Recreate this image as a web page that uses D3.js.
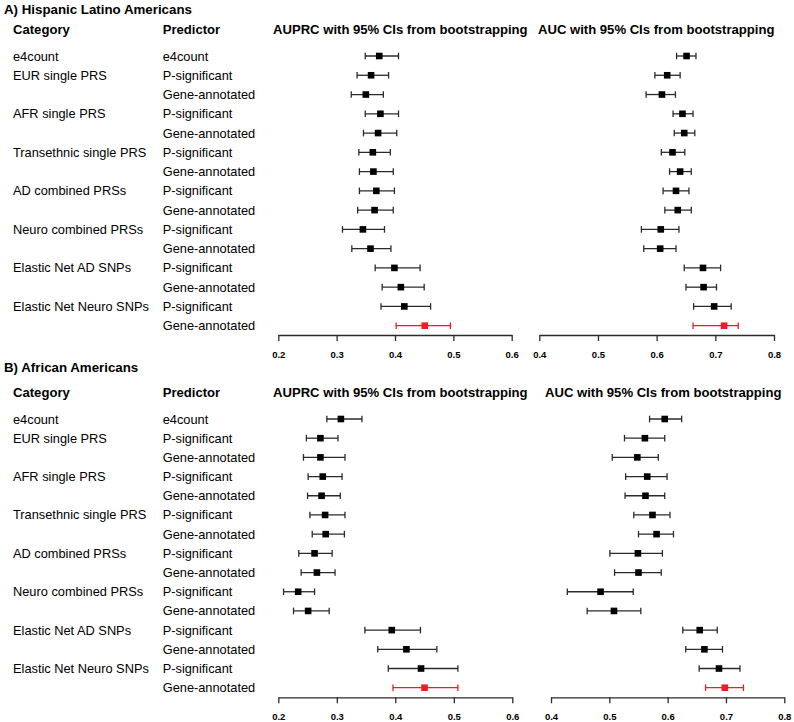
<!DOCTYPE html>
<html>
<head>
<meta charset="utf-8">
<script src="https://cdn.jsdelivr.net/npm/d3@7"></script>
<style>
  html, body { margin: 0; padding: 0; background: #fff; }
  svg { display: block; font-family: "Liberation Sans", Arial, sans-serif; }
</style>
</head>
<body>
<svg id="chart" width="794" height="722"></svg>
<script>
// ---------- data ----------
const categories = ["e4count", "EUR single PRS", "", "AFR single PRS", "", "Transethnic single PRS", "",
  "AD combined PRSs", "", "Neuro combined PRSs", "", "Elastic Net AD SNPs", "", "Elastic Net Neuro SNPs", ""];
const predictors = ["e4count", "P-significant", "Gene-annotated", "P-significant", "Gene-annotated",
  "P-significant", "Gene-annotated", "P-significant", "Gene-annotated", "P-significant", "Gene-annotated",
  "P-significant", "Gene-annotated", "P-significant", "Gene-annotated"];
const highlightRow = 14;

// Panel A: Hispanic Latino Americans
const hlaAuprc   = [0.373, 0.359, 0.350, 0.375, 0.371, 0.362, 0.363, 0.368, 0.365, 0.345, 0.358, 0.399, 0.410, 0.416, 0.451];
const hlaAuprcLo = [0.349, 0.335, 0.325, 0.349, 0.346, 0.338, 0.339, 0.339, 0.336, 0.310, 0.326, 0.366, 0.378, 0.376, 0.402];
const hlaAuprcHi = [0.406, 0.389, 0.380, 0.406, 0.403, 0.392, 0.397, 0.399, 0.397, 0.382, 0.393, 0.443, 0.450, 0.461, 0.495];
const hlaAuc     = [0.651, 0.618, 0.609, 0.644, 0.647, 0.627, 0.640, 0.633, 0.636, 0.607, 0.606, 0.679, 0.680, 0.698, 0.715];
const hlaAucLo   = [0.634, 0.597, 0.582, 0.628, 0.630, 0.608, 0.622, 0.611, 0.614, 0.574, 0.578, 0.647, 0.650, 0.663, 0.662];
const hlaAucHi   = [0.667, 0.640, 0.632, 0.662, 0.665, 0.648, 0.659, 0.655, 0.659, 0.638, 0.633, 0.709, 0.702, 0.727, 0.739];

// Panel B: African Americans
const aaAuprc   = [0.307, 0.272, 0.272, 0.276, 0.274, 0.280, 0.281, 0.262, 0.266, 0.234, 0.251, 0.394, 0.419, 0.444, 0.450];
const aaAuprcLo = [0.283, 0.248, 0.243, 0.251, 0.250, 0.254, 0.258, 0.235, 0.239, 0.209, 0.226, 0.348, 0.370, 0.388, 0.396];
const aaAuprcHi = [0.343, 0.302, 0.314, 0.309, 0.306, 0.314, 0.313, 0.292, 0.297, 0.262, 0.287, 0.443, 0.471, 0.507, 0.507];
const aaAuc     = [0.595, 0.561, 0.548, 0.565, 0.562, 0.574, 0.581, 0.549, 0.550, 0.485, 0.508, 0.655, 0.663, 0.688, 0.698];
const aaAucLo   = [0.569, 0.526, 0.505, 0.528, 0.527, 0.542, 0.550, 0.501, 0.509, 0.428, 0.462, 0.626, 0.631, 0.654, 0.665];
const aaAucHi   = [0.624, 0.595, 0.584, 0.599, 0.595, 0.604, 0.610, 0.591, 0.589, 0.541, 0.554, 0.685, 0.694, 0.724, 0.730];

const auprcTicks = [0.2, 0.3, 0.4, 0.5, 0.6];
const aucTicks = [0.4, 0.5, 0.6, 0.7, 0.8];

const panelTitles = ["A) Hispanic Latino Americans", "B) African Americans"];
const colHeaders = ["Category", "Predictor", "AUPRC with 95% CIs from bootstrapping", "AUC with 95% CIs from bootstrapping"];

// ---------- drawing ----------
const svg = d3.select("#chart");
const rowIdx = d3.range(categories.length);
const RED = "#ee1c25";
const BAR = "#2b2b2b";
const HEAD_FS = 13.1;
const BODY_FS = 12.8;

const panels = [
  { title: panelTitles[0], titleY: 14, headY: 34, rowTop: 56, rowBot: 325.7, axisY: 335,
    auprcRange: [278.3, 511.7], aucRange: [539.3, 774], aucHeadX: 538,
    auprc: [hlaAuprc, hlaAuprcLo, hlaAuprcHi], auc: [hlaAuc, hlaAucLo, hlaAucHi] },
  { title: panelTitles[1], titleY: 372, headY: 397, rowTop: 419, rowBot: 687.7, axisY: 697.3,
    auprcRange: [278.3, 512.3], aucRange: [551, 784.3], aucHeadX: 545,
    auprc: [aaAuprc, aaAuprcLo, aaAuprcHi], auc: [aaAuc, aaAucLo, aaAucHi] }
];

panels.forEach(p => {
  const g = svg.append("g");
  g.append("text").attr("x", 4).attr("y", p.titleY)
    .attr("font-size", 13.3).attr("font-weight", "bold").attr("fill", "#000").text(p.title);

  const heads = [[13, colHeaders[0]], [162.7, colHeaders[1]], [273, colHeaders[2]], [p.aucHeadX, colHeaders[3]]];
  g.selectAll("text.head").data(heads).join("text").attr("class", "head")
    .attr("x", d => d[0]).attr("y", p.headY)
    .attr("font-size", HEAD_FS).attr("font-weight", "bold").attr("fill", "#000").text(d => d[1]);

  const y = d3.scalePoint().domain(rowIdx).range([p.rowTop, p.rowBot]);

  g.selectAll("text.cat").data(rowIdx).join("text").attr("class", "cat")
    .attr("x", 13).attr("y", i => y(i) + 4.5)
    .attr("font-size", BODY_FS).attr("fill", "#000").text(i => categories[i]);
  g.selectAll("text.pred").data(rowIdx).join("text").attr("class", "pred")
    .attr("x", 162.7).attr("y", i => y(i) + 4.5)
    .attr("font-size", BODY_FS).attr("fill", "#000").text(i => predictors[i]);

  const drawForest = (vals, domain, range, ticks) => {
    const [pt, lo, hi] = vals;
    const x = d3.scaleLinear().domain(domain).range(range);
    const fg = g.append("g");
    const rows = fg.selectAll("g.row").data(rowIdx).join("g").attr("class", "row");
    const col = i => i === highlightRow ? RED : BAR;
    rows.append("line")
      .attr("x1", i => x(lo[i])).attr("x2", i => x(hi[i]))
      .attr("y1", i => y(i)).attr("y2", i => y(i))
      .attr("stroke", col).attr("stroke-width", 1.3);
    rows.append("line")
      .attr("x1", i => x(lo[i])).attr("x2", i => x(lo[i]))
      .attr("y1", i => y(i) - 3.3).attr("y2", i => y(i) + 3.3)
      .attr("stroke", col).attr("stroke-width", 1.3);
    rows.append("line")
      .attr("x1", i => x(hi[i])).attr("x2", i => x(hi[i]))
      .attr("y1", i => y(i) - 3.3).attr("y2", i => y(i) + 3.3)
      .attr("stroke", col).attr("stroke-width", 1.3);
    rows.append("rect")
      .attr("x", i => x(pt[i]) - 3.3).attr("y", i => y(i) - 3.3)
      .attr("width", 6.6).attr("height", 6.6)
      .attr("fill", i => i === highlightRow ? RED : "#000");

    const axis = d3.axisBottom(x).tickValues(ticks).tickFormat(d3.format(".1f"))
      .tickSize(6).tickSizeOuter(0).tickPadding(10);
    const ag = fg.append("g").attr("transform", `translate(0,${p.axisY})`).call(axis);
    ag.select(".domain").attr("stroke", BAR).attr("stroke-width", 1.3);
    ag.selectAll(".tick line").attr("stroke", BAR).attr("stroke-width", 1.3);
    ag.selectAll(".tick text").attr("font-size", 9.5).attr("font-weight", "bold")
      .attr("fill", "#000").attr("font-family", "Liberation Sans, Arial, sans-serif");
  };

  drawForest(p.auprc, [0.2, 0.6], p.auprcRange, auprcTicks);
  drawForest(p.auc, [0.4, 0.8], p.aucRange, aucTicks);
});
</script>
</body>
</html>
